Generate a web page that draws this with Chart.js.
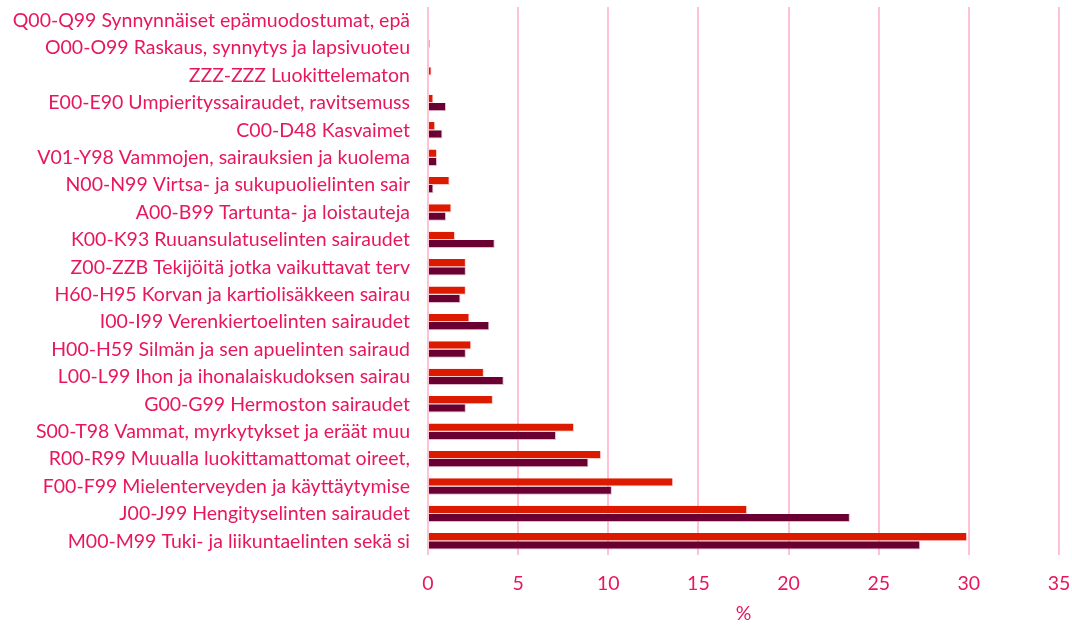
<!DOCTYPE html>
<html>
<head>
<meta charset="utf-8">
<script src="https://cdn.jsdelivr.net/npm/chart.js@4/dist/chart.umd.min.js"></script>
<style>
html,body{margin:0;padding:0;background:#fff;}
#wrap{width:1072px;height:625px;position:relative;}
</style>
</head>
<body>
<div id="wrap"><canvas id="c" width="1072" height="625"></canvas></div>
<script>
const categories = [
  "Q00-Q99 Synnynnäiset epämuodostumat, epä",
  "O00-O99 Raskaus, synnytys ja lapsivuoteu",
  "ZZZ-ZZZ Luokittelematon",
  "E00-E90 Umpierityssairaudet, ravitsemuss",
  "C00-D48 Kasvaimet",
  "V01-Y98 Vammojen, sairauksien ja kuolema",
  "N00-N99 Virtsa- ja sukupuolielinten sair",
  "A00-B99 Tartunta- ja loistauteja",
  "K00-K93 Ruuansulatuselinten sairaudet",
  "Z00-ZZB Tekijöitä jotka vaikuttavat terv",
  "H60-H95 Korvan ja kartiolisäkkeen sairau",
  "I00-I99 Verenkiertoelinten sairaudet",
  "H00-H59 Silmän ja sen apuelinten sairaud",
  "L00-L99 Ihon ja ihonalaiskudoksen sairau",
  "G00-G99 Hermoston sairaudet",
  "S00-T98 Vammat, myrkytykset ja eräät muu",
  "R00-R99 Muualla luokittamattomat oireet,",
  "F00-F99 Mielenterveyden ja käyttäytymise",
  "J00-J99 Hengityselinten sairaudet",
  "M00-M99 Tuki- ja liikuntaelinten sekä si"
];
const seriesRed = [0, 0.1, 0.2, 0.3, 0.4, 0.5, 1.2, 1.3, 1.5, 2.1, 2.1, 2.3, 2.4, 3.1, 3.6, 8.1, 9.6, 13.6, 17.7, 29.9];
const seriesMaroon = [0, 0, 0, 1.0, 0.8, 0.5, 0.3, 1.0, 3.7, 2.1, 1.8, 3.4, 2.1, 4.2, 2.1, 7.1, 8.9, 10.2, 23.4, 27.3];
const xTicks = [0, 5, 10, 15, 20, 25, 30, 35];

const textColor = "#e8175d";
const font = {family: "Lato, 'Open Sans', sans-serif", size: 19.5};

new Chart(document.getElementById("c"), {
  type: "bar",
  data: {
    labels: categories,
    datasets: [
      {label: "A", data: seriesRed, backgroundColor: "#dc1a00", borderColor: "rgba(255,170,170,0.6)", borderWidth: {top:0,right:1,bottom:1,left:0}, borderSkipped: "start"},
      {label: "B", data: seriesMaroon, backgroundColor: "#6a0032", borderColor: "rgba(200,140,170,0.6)", borderWidth: {top:0,right:1,bottom:1,left:0}, borderSkipped: "start"}
    ]
  },
  options: {
    indexAxis: "y",
    responsive: false,
    animation: false,
    devicePixelRatio: 1,
    categoryPercentage: 0.6,
    barPercentage: 1.0,
    layout: {padding: {top: 7, right: 13, bottom: 0, left: 0}},
    plugins: {legend: {display: false}, tooltip: {enabled: false}},
    scales: {
      x: {
        min: 0, max: 35,
        afterBuildTicks: (axis) => { axis.ticks = xTicks.map(v => ({value: v})); },
        afterFit: (axis) => { axis.height = 70; axis.paddingLeft = 0; axis.paddingRight = 0; },
        grid: {color: "#ffc1d6", lineWidth: 2, drawTicks: false},
        border: {display: false},
        ticks: {color: textColor, font: font, padding: 17, maxRotation: 0},
        title: {display: true, text: "%", color: textColor, font: font, padding: {top: 0, bottom: 0}}
      },
      y: {
        afterFit: (axis) => { axis.width = 428; axis.paddingTop = 0; axis.paddingBottom = 0; },
        grid: {display: false, drawTicks: false},
        border: {display: false},
        ticks: {color: textColor, font: font, padding: 18, autoSkip: false}
      }
    }
  }
});
</script>
</body>
</html>
